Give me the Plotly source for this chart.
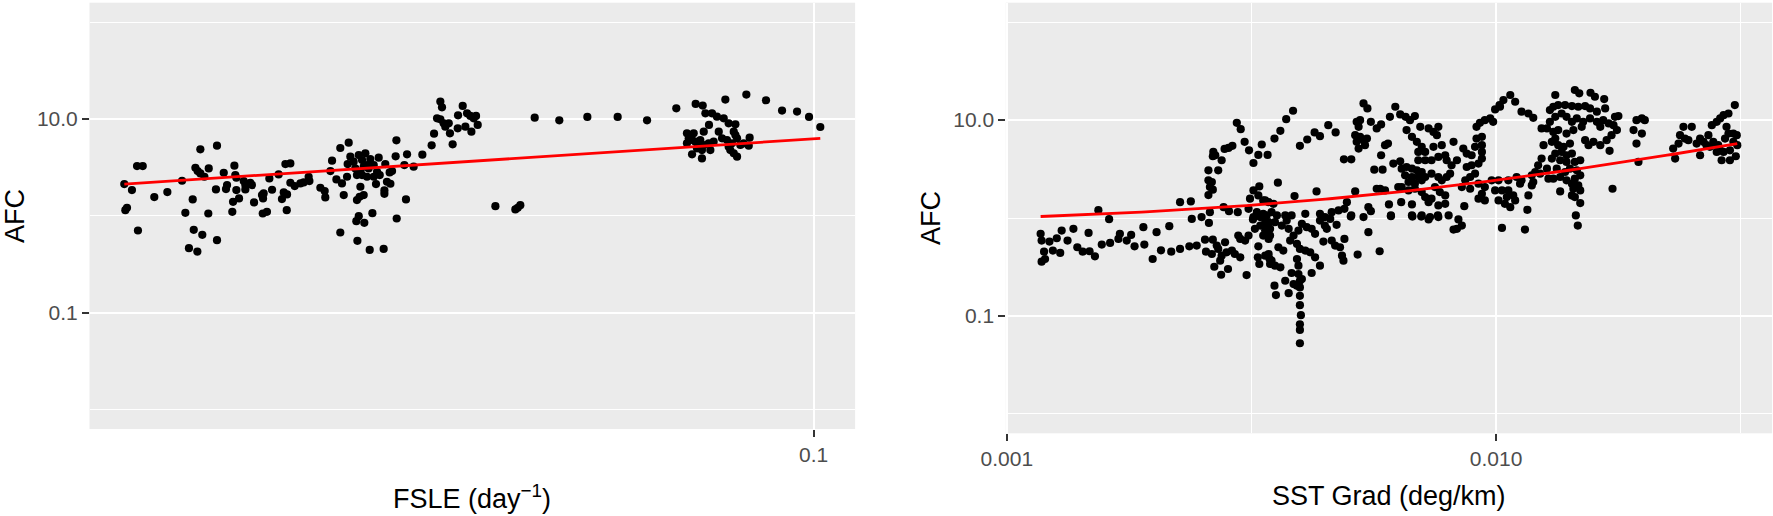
import numpy as np
import plotly.graph_objects as go

# ---------------- data (stored as log10 of the value) ----------------
# Panel 1: FSLE (day^-1) vs AFC
fsle_log10 = [
    -1.4596, -1.4545, -1.4589, -1.4578, -1.4511, -1.4473, -1.4505, -1.4396, -1.4309, -1.4211,
    -1.4189, -1.4140, -1.4133, -1.4165, -1.4109, -1.4076, -1.4122, -1.4107, -1.4089, -1.4062,
    -1.4089, -1.4033, -1.4036, -1.3978, -1.3985, -1.3978, -1.3933, -1.3911, -1.3918, -1.3862,
    -1.3856, -1.3849, -1.3849, -1.3871, -1.3876, -1.3831, -1.3800, -1.3789, -1.3789, -1.3756,
    -1.3745, -1.3731, -1.3678, -1.3667, -1.3671, -1.3673, -1.3645, -1.3629, -1.3611, -1.3567,
    -1.3545, -1.3533, -1.3511, -1.3522, -1.3489, -1.3513, -1.3489, -1.3460, -1.3422, -1.3400,
    -1.3367, -1.3362, -1.3289, -1.3256, -1.3260, -1.3222, -1.3211, -1.3182, -1.3156, -1.3156,
    -1.3133, -1.3145, -1.3100, -1.3107, -1.3089, -1.3111, -1.3056, -1.3033, -1.3011, -1.2989,
    -1.2978, -1.2956, -1.2933, -1.2900, -1.3045, -1.3011, -1.2978, -1.2933, -1.3022, -1.3000,
    -1.3067, -1.2967, -1.2911, -1.3022, -1.3045, -1.3027, -1.3000, -1.3033, -1.3049, -1.2996,
    -1.3042, -1.2942, -1.2960, -1.2867, -1.2918, -1.2893, -1.2856, -1.2845, -1.2822, -1.2862,
    -1.2862, -1.2811, -1.2827, -1.2787, -1.2782, -1.2780, -1.2729, -1.2718, -1.2711, -1.2667,
    -1.2609, -1.2547, -1.2531, -1.2489, -1.2478, -1.2511, -1.2489, -1.2467, -1.2456, -1.2433,
    -1.2425, -1.2407, -1.2373, -1.2371, -1.2340, -1.2322, -1.2311, -1.2289, -1.2267, -1.2251,
    -1.2282, -1.2240,
    -1.2122, -1.1989, -1.1973, -1.1956, -1.1860, -1.1696, -1.1509, -1.1307, -1.1111, -1.0916,
    -1.0787, -1.0740, -1.0722, -1.0678, -1.0645, -1.0600, -1.0567, -1.0522, -1.0533, -1.0522,
    -1.0698, -1.0589, -1.0449, -1.0318, -1.0211, -1.0111, -1.0031, -0.9956,
    -1.0845, -1.0822, -1.0800, -1.0833, -1.0811, -1.0845, -1.0789, -1.0767, -1.0756, -1.0733,
    -1.0778, -1.0745, -1.0811, -1.0745, -1.0689, -1.0667, -1.0633, -1.0611, -1.0578, -1.0567,
    -1.0556, -1.0533, -1.0511, -1.0545, -1.0511, -1.0489, -1.0427, -1.0433, -1.0467, -1.0733,
    -1.0700,
]
afc_fsle_log10 = [
    0.3278, 0.2658, 0.0589, 0.0831, 0.514, 0.514, -0.1513, 0.1934, 0.2451, 0.3623,
    0.0314, 0.1693, -0.1444, -0.334, -0.3685, -0.1961, 0.4967, 0.4622, 0.4381, 0.4036,
    0.6863, 0.4898, 0.0245, 0.7242, 0.2727, -0.2513, 0.445, 0.3175, 0.2761, 0.5174,
    0.4209, 0.3933, 0.2658, 0.1451, 0.0417, 0.1796, 0.3588, 0.3175, 0.2727, 0.3416,
    0.3175, 0.1382, 0.2141, 0.2313, 0.1796, 0.0245, 0.0417, 0.3864, 0.2692, 0.4278,
    0.1727, 0.2416, 0.221, 0.5346, 0.5416, 0.0589, 0.3416, 0.3071, 0.3347, 0.3451,
    0.4036, 0.3588, 0.2899, 0.1899, 0.2554, 0.4622, 0.5691, 0.3761, 0.7001, -0.172,
    0.2141, 0.3347, 0.7553, 0.5346, 0.6105, 0.4036, 0.4898, 0.6277, 0.576, 0.6449,
    0.5243, 0.5863, 0.5243, 0.6001, 0.4209, 0.4209, 0.4036, 0.4036, 0.4553, 0.5071,
    0.5588, 0.4898, 0.4553, 0.3002, 0.1624, 0.1968, 0.2141, -0.0031, -0.0548, -0.072,
    -0.2582, 0.0279, -0.3513, -0.3409, 0.3278, 0.4209, 0.5346, 0.3519, 0.3313, 0.2623,
    0.2278, 0.4622, 0.4485, 0.6139, 0.7794, -0.0272, 0.5243, 0.1693, 0.6346, 0.5071,
    0.6312, 0.7277, 0.8483, 1.1792, 1.1206, 1.0069, 0.9965, 0.9552, 0.9207, 0.9552,
    0.8518, 0.738, 0.9035, 1.0379, 1.1344, 0.9207, 1.0586, 1.031, 1.0069, 1.031,
    0.869, 0.938,
    0.1003, 0.0658, 0.0831, 0.1106, 1.0138, 0.9862, 1.0207, 1.0207, 0.9862, 1.1103,
    1.1551, 1.1379, 1.0586, 1.0586, 1.0241, 1.0069, 0.9552, 0.9448, 0.869, 0.8346,
    0.938, 1.1999, 1.2516, 1.193, 1.0862, 1.0758, 1.0207, 0.9173,
    0.8518, 0.8346, 0.8518, 0.8001, 0.7828, 0.7484, 0.7656, 0.7311, 0.7828, 0.869,
    0.6966, 0.6794, 0.6346, 0.5932, 0.6794, 0.7656, 0.869, 0.8001, 0.7828, 0.7139,
    0.6794, 0.6449, 0.6105, 0.7484, 0.8001, 0.7311, 0.807, 0.7242, 0.7484, 0.7311,
    0.7484,
]

# Panel 2: SST gradient (deg/km) vs AFC
sst_log10 = [
    -2.530, -2.522, -2.514, -2.505, -2.479, -2.486, -2.467, -2.496, -2.578, -2.574,
    -2.579, -2.561, -2.555, -2.547, -2.539, -2.588, -2.568, -2.588, -2.581, -2.585,
    -2.579, -2.588, -2.646, -2.624, -2.813, -2.791, -2.557, -2.546, -2.528, -2.622,
    -2.602, -2.585, -2.503, -2.496, -2.484, -2.486, -2.476, -2.465, -2.506, -2.489,
    -2.476, -2.496, -2.482, -2.469,
    -2.587, -2.931, -2.929, -2.913, -2.898, -2.888, -2.876, -2.864, -2.856, -2.845,
    -2.833, -2.831, -2.820, -2.806, -2.789, -2.772, -2.769, -2.755, -2.746, -2.739,
    -2.721, -2.719, -2.702, -2.694, -2.685, -2.668, -2.664, -2.646, -2.627, -2.612,
    -2.595, -2.579, -2.554, -2.593, -2.581, -2.568, -2.561, -2.571, -2.551, -2.540,
    -2.534, -2.523, -2.527, -2.523, -2.506, -2.576, -2.562, -2.548, -2.510, -2.924,
    -2.929, -2.922, -2.906, -2.891, -2.497, -2.493, -2.482, -2.472, -2.465, -2.476,
    -2.462, -2.486, -2.487, -2.484, -2.472, -2.463,
    -2.455, -2.469, -2.513, -2.564, -2.462,
    -2.453, -2.441, -2.429, -2.415, -2.401, -2.386, -2.371, -2.360, -2.343, -2.328,
    -2.446, -2.412, -2.367, -2.311, -2.296, -2.288, -2.285, -2.278, -2.281, -2.288,
    -2.278, -2.285, -2.271, -2.281, -2.268, -2.264, -2.271, -2.263, -2.256, -2.244,
    -2.235, -2.217, -2.206, -2.196, -2.185, -2.176, -2.166, -2.227, -2.221, -2.235,
    -2.249, -2.232, -2.210, -2.196, -2.183, -2.172, -2.155, -2.138, -2.128, -2.118,
    -2.121, -2.162, -2.152, -2.145, -2.128, -2.111, -2.087, -2.159, -2.159, -2.145,
    -2.132, -2.118, -2.104, -2.101, -2.091, -2.080,
    -2.193, -2.183, -2.172, -2.162, -2.152, -2.186, -2.172, -2.159, -2.145, -2.179,
    -2.166, -2.152, -2.193, -2.179, -2.166, -2.152, -2.132, -2.118, -2.111, -2.101,
    -2.094, -2.125, -2.115, -2.104, -2.132, -2.145, -2.138, -2.104, -2.118,
    -2.244, -2.237, -2.227, -2.200, -2.194, -2.172, -2.219, -2.215, -2.261, -2.256,
    -2.172, -2.152, -2.135, -2.119, -2.097, -2.065,
    -2.067, -2.060, -2.050, -2.043, -2.040, -2.029, -2.029, -2.029, -2.029, -2.036,
    -2.050, -2.060, -2.043, -2.053, -2.063, -2.070, -2.053, -2.036, -2.023, -2.029,
    -2.036, -2.023,
    -2.040, -2.033, -2.023, -2.012, -2.006, -2.002, -1.993, -1.985, -2.009, -1.995,
    -2.002, -1.995, -1.988,
    -2.472, -2.459, -2.448, -2.431, -2.418, -2.390, -2.360, -2.350, -2.336, -2.322,
    -2.310, -2.305, -2.296, -2.271,
    -2.297, -2.215, -2.171, -2.153, -2.138, -2.118, -2.077, -2.070, -2.087, -2.080,
    -1.988, -2.261, -2.238, -2.283,
    -2.472, -2.462, -2.452, -2.438, -2.428, -2.424, -2.414, -2.404, -2.397, -2.387,
    -2.377, -2.370, -2.360, -2.350, -2.346, -2.339, -2.326,
    -2.465, -2.445, -2.435, -2.421, -2.407, -2.401, -2.390, -2.380, -2.370, -2.353,
    -2.336, -2.329, -2.319, -2.310, -2.315, -2.312,
    -2.465, -2.459, -2.452, -2.441, -2.407, -2.404, -2.360, -2.377, -2.418,
    -2.453, -2.450, -2.431, -2.424, -2.414,
    -2.404, -2.401, -2.401, -2.401, -2.401, -2.399, -2.401, -2.401, -2.401, -2.407, -2.397,
    -1.971, -1.961, -1.992, -1.948, -1.934, -1.924, -1.879, -1.839, -1.830, -1.807, -1.798, -1.779,
    -1.890, -1.883, -1.873, -1.859, -1.845, -1.832, -1.818, -1.808, -1.794, -1.777,
    -1.757, -1.750, -1.760, -1.753, -1.764, -1.774, -1.787, -1.801, -1.811, -1.818,
    -1.787, -1.794, -1.808, -1.822, -1.835, -1.845, -1.856, -1.866, -1.879, -1.890,
    -1.896, -1.907, -1.883, -1.873, -1.856, -1.842, -1.825, -1.781, -1.770,
    -1.886, -1.879, -1.873, -1.903, -1.862, -1.849, -1.866, -1.856, -1.845, -1.879,
    -1.886, -1.869, -1.856, -1.839, -1.828, -1.907, -1.914, -1.920, -1.927, -1.896,
    -1.876, -1.859, -1.849, -1.835, -1.828, -1.839, -1.856, -1.845, -1.832, -1.828,
    -1.842, -1.869, -1.883, -1.893, -1.910, -1.927, -1.924, -1.948, -1.951, -1.958,
    -1.975,
    -1.768, -1.762, -1.869, -1.934, -1.965, -1.978, -1.982, -1.971, -1.961, -1.975,
    -1.936, -1.845, -1.839, -1.828, -1.837,
    -1.713, -1.702, -1.696, -1.719, -1.702, -1.713, -1.709,
    -1.617, -1.600, -1.624, -1.614, -1.627, -1.638, -1.634, -1.607, -1.590, -1.583,
    -1.576, -1.566, -1.559, -1.549, -1.542, -1.535, -1.525, -1.512,
    -1.570, -1.556, -1.546, -1.542, -1.532, -1.525, -1.515, -1.508, -1.529, -1.515,
    -1.507, -1.522, -1.535, -1.549, -1.583, -1.539, -1.522, -1.510, -1.563,
    -1.941, -1.833,
]
afc_sst_log10 = [
    0.973, 0.908, 0.778, 0.692, 0.751, 0.645, 0.645, 0.562, 0.675, 0.641,
    0.631, 0.590, 0.706, 0.716, 0.737, 0.487, 0.487, 0.385, 0.368, 0.316,
    0.289, 0.234, 0.162, 0.169, 0.080, -0.012, 0.111, 0.070, 0.060, -0.009,
    0.009, 0.060, 0.197, 0.282, 0.323, 0.231, 0.180, 0.162, 0.094, 0.060,
    0.043, 0.009, 0.009, 0.026,
    -0.050, -0.162, -0.231, -0.241, -0.207, -0.128, -0.231, -0.111, -0.299, -0.344,
    -0.152, -0.340, -0.392, -0.272, -0.255, -0.214, -0.162, -0.231, -0.173, -0.289,
    -0.094, -0.272, -0.419, -0.145, -0.330, -0.084, -0.344, -0.316, -0.289, -0.282,
    -0.221, -0.221, -0.248, -0.344, -0.368, -0.316, -0.385, -0.282, -0.351, -0.333,
    -0.368, -0.402, -0.180, -0.214, -0.180, -0.498, -0.580, -0.521, -0.583, -0.344,
    -0.446, -0.419, -0.333, -0.357, -0.015, -0.111, -0.077, -0.128, -0.043, -0.180,
    -0.180, -0.289, -0.402, -0.470, -0.385, -0.419,
    0.145, -0.094, -0.231, -0.436, -0.470,
    0.812, 0.891, 1.010, 1.096, 0.737, 0.802, 0.874, 0.836, 0.949, 0.874,
    0.361, 0.224, 0.272, 0.600, 0.600, 0.272, 0.983, 1.000, 0.932, 0.846,
    0.829, 0.778, 0.795, 0.709, 0.744, 0.812, 1.171, 1.120, 0.983, 0.915,
    0.956, 1.034, 1.137, 1.058, 1.034, 1.000, 1.041, 0.744, 0.761, 0.641,
    0.494, 0.494, 0.556, 0.580, 0.898, 0.829, 0.932, 0.915, 0.880, 0.932,
    0.846, 0.778, 0.727, 0.675, 0.727, 0.744, 0.778, 0.675, 0.590, 0.590,
    0.590, 0.624, 0.641, 0.590, 0.539, 0.590,
    0.504, 0.521, 0.504, 0.487, 0.470, 0.436, 0.419, 0.419, 0.419, 0.368,
    0.351, 0.385, 0.316, 0.282, 0.299, 0.265, 0.453, 0.419, 0.385, 0.419,
    0.453, 0.316, 0.265, 0.231, 0.197, 0.214, 0.162, 0.145, 0.128,
    0.299, 0.299, 0.282, 0.316, 0.162, 0.139, 0.139, 0.026, 0.111, 0.070,
    0.026, 0.026, 0.009, 0.026, 0.026, 0.121,
    0.709, 0.658, 0.641, 0.727, 0.812, 0.829, 0.744, 0.675, 0.607, 0.556,
    0.539, 0.521, 0.453, 0.419, 0.385, 0.316, 0.299, 0.351, 0.316, 0.248,
    0.197, 0.180,
    0.932, 0.973, 1.000, 1.017, 0.983, 1.109, 1.154, 1.205, 0.385, 0.385,
    0.282, 0.180, 0.282,
    0.180, 0.060, 0.026, 0.026, 0.026, 0.043, 0.043, 0.009, 0.060, 0.077,
    0.094, 0.162, 0.026, 0.009,
    0.015, 0.019, 0.015, 0.015, -0.015, 0.009, -0.015, -0.077, -0.118, -0.111,
    -0.101, -0.145, -0.340, -0.374,
    -0.043, -0.111, -0.043, -0.077, -0.026, -0.111, -0.180, -0.128, -0.060, -0.094,
    -0.111, -0.162, -0.026, -0.077, -0.111, -0.009, -0.070,
    -0.214, -0.299, -0.333, -0.231, -0.265, -0.316, -0.333, -0.351, -0.402, -0.241,
    -0.231, -0.282, -0.299, -0.214, -0.385, -0.436,
    -0.368, -0.436, -0.487, -0.504, -0.419, -0.487, -0.487, -0.562, -0.562,
    -0.692, -0.788, -0.641, -0.768, -0.675,
    -0.573, -0.641, -0.709, -0.795, -0.891, -0.993, -1.086, -1.144, -1.280, -0.692, -0.624,
    1.257, 1.188, 1.137, 1.086, 1.068, 1.024, 1.257, 1.308, 1.274, 1.280, 1.239, 1.215,
    1.103, 1.137, 1.154, 1.154, 1.144, 1.137, 1.144, 1.120, 1.086, 1.120,
    1.034, 1.041, 0.949, 0.898, 0.846, 0.795, 0.744, 0.778, 0.744, 0.795,
    0.932, 0.983, 1.017, 0.983, 1.017, 0.983, 1.034, 1.068, 1.034, 0.983,
    0.915, 0.915, 0.880, 0.898, 0.863, 0.898, 0.932, 1.000, 0.966,
    0.778, 0.812, 0.744, 0.744, 0.727, 0.761, 0.675, 0.641, 0.658, 0.658,
    0.607, 0.590, 0.573, 0.573, 0.590, 0.607, 0.539, 0.470, 0.436, 0.504,
    0.504, 0.470, 0.504, 0.487, 0.436, 0.402, 0.385, 0.351, 0.333, 0.282,
    0.299, 0.419, 0.402, 0.402, 0.453, 0.333, 0.368, 0.385, 0.351, 0.419,
    0.385,
    0.686, 0.299, 0.272, 0.231, 0.231, 0.214, 0.145, 0.111, 0.180, 0.282,
    0.084, 0.231, 0.214, 0.152, 0.026,
    1.000, 1.017, 1.000, 0.898, 0.863, 0.761, 0.573,
    0.932, 0.932, 0.846, 0.812, 0.761, 0.709, 0.607, 0.795, 0.761, 0.812,
    0.778, 0.846, 0.949, 0.983, 1.017, 1.051, 1.068, 1.154,
    0.744, 0.778, 0.744, 0.692, 0.812, 0.863, 0.863, 0.846, 0.932, 0.778,
    0.744, 0.692, 0.675, 0.675, 0.641, 0.590, 0.590, 0.631, 0.727,
    -0.118, -0.077,
]

# linear-model fits (intercept, slope) in linear units, as drawn by the red lines
fsle_fit = [-0.0616, 63.07]
sst_fit = [0.851, 157.8]

# axis limits of AFC (before the 5% expansion) and tick labels
afc_limits = [0.01, 100]
afc_ticks = [0.1, 10]
afc_ticktext = ["0.1", "10.0"]
afc_minor = [0.01, 1, 100]
fsle_ticks = [0.1]
fsle_ticktext = ["0.1"]
sst_ticks = [0.001, 0.01]
sst_ticktext = ["0.001", "0.010"]
sst_minor = [10 ** -2.5, 10 ** -1.5]

assert len(fsle_log10) == len(afc_fsle_log10)
assert len(sst_log10) == len(afc_sst_log10)

fsle = 10 ** np.array(fsle_log10)
afc1 = 10 ** np.array(afc_fsle_log10)
sst = 10 ** np.array(sst_log10)
afc2 = 10 ** np.array(afc_sst_log10)


def log_range(vals, pad=0.05):
    lo, hi = np.log10(np.min(vals)), np.log10(np.max(vals))
    d = (hi - lo) * pad
    return [lo - d, hi + d]


# ---------------- layout geometry (pixels) ----------------
W, H = 1773, 516
FONT = "Liberation Sans, Arial, Helvetica, sans-serif"


def fx(p):
    return p / W


def fy(p):
    return 1 - p / H


fig = go.Figure()

fig.add_trace(go.Scatter(x=fsle, y=afc1, mode="markers",
                         marker=dict(color="black", size=8.2, line=dict(width=0)),
                         xaxis="x", yaxis="y", showlegend=False, hoverinfo="skip"))
fx1 = np.geomspace(fsle.min(), fsle.max(), 120)
fig.add_trace(go.Scatter(x=fx1, y=fsle_fit[0] + fsle_fit[1] * fx1, mode="lines",
                         line=dict(color="#FF0000", width=2.8),
                         xaxis="x", yaxis="y", showlegend=False, hoverinfo="skip"))

fig.add_trace(go.Scatter(x=sst, y=afc2, mode="markers",
                         marker=dict(color="black", size=8.2, line=dict(width=0)),
                         xaxis="x2", yaxis="y2", showlegend=False, hoverinfo="skip"))
fx2 = np.geomspace(sst.min(), sst.max(), 160)
fig.add_trace(go.Scatter(x=fx2, y=sst_fit[0] + sst_fit[1] * fx2, mode="lines",
                         line=dict(color="#FF0000", width=2.8),
                         xaxis="x2", yaxis="y2", showlegend=False, hoverinfo="skip"))

afc_range = [np.log10(afc_limits[0]) - 0.2, np.log10(afc_limits[1]) + 0.2]

common = dict(
    type="log", showgrid=True, gridcolor="white", gridwidth=2.4,
    zeroline=False, showline=False, automargin=False,
    ticks="outside", ticklen=6.5, tickwidth=2.2, tickcolor="#333333",
    tickfont=dict(family=FONT, size=21, color="#4D4D4D"),
    tickmode="array",
)

fig.update_layout(
    template="none",
    width=W, height=H,
    margin=dict(l=0, r=0, t=0, b=0, pad=0, autoexpand=False),
    paper_bgcolor="white", plot_bgcolor="#EBEBEB",
    showlegend=False,
    xaxis=dict(domain=[fx(89.5), fx(855.1)], range=log_range(fsle), anchor="y",
               tickvals=fsle_ticks, ticktext=fsle_ticktext, **common),
    yaxis=dict(domain=[fy(429.0), fy(2.7)], range=afc_range, anchor="x",
               tickvals=afc_ticks, ticktext=afc_ticktext,
               minor=dict(tickmode="array", tickvals=afc_minor, showgrid=True,
                          gridcolor="white", gridwidth=1.2, ticks=""),
               **common),
    xaxis2=dict(domain=[fx(1005.8), fx(1772.1)], range=log_range(sst), anchor="y2",
                tickvals=sst_ticks, ticktext=sst_ticktext,
                minor=dict(tickmode="array", tickvals=sst_minor, showgrid=True,
                           gridcolor="white", gridwidth=1.2, ticks=""),
                **common),
    yaxis2=dict(domain=[fy(433.3), fy(2.7)], range=afc_range, anchor="x2",
                tickvals=afc_ticks, ticktext=afc_ticktext,
                minor=dict(tickmode="array", tickvals=afc_minor, showgrid=True,
                           gridcolor="white", gridwidth=1.2, ticks=""),
                **common),
)

title_font = dict(family=FONT, size=27, color="black")
fig.add_annotation(text="AFC", x=fx(15), y=fy(216), xref="paper", yref="paper",
                   textangle=-90, showarrow=False, xanchor="center", yanchor="middle",
                   font=title_font)
fig.add_annotation(text="AFC", x=fx(931), y=fy(218), xref="paper", yref="paper",
                   textangle=-90, showarrow=False, xanchor="center", yanchor="middle",
                   font=title_font)
fig.add_annotation(text="FSLE (day<sup>\u22121</sup>)", x=fx(472.3), y=fy(497), xref="paper",
                   yref="paper", showarrow=False, xanchor="center", yanchor="middle",
                   font=title_font)
fig.add_annotation(text="SST Grad (deg/km)", x=fx(1389), y=fy(496), xref="paper",
                   yref="paper", showarrow=False, xanchor="center", yanchor="middle",
                   font=title_font)

fig.write_html(
    "out.html",
    config={"displayModeBar": False},
    post_script="document.body.style.margin='0';document.body.style.padding='0';"
                "document.body.style.overflow='hidden';",
)
